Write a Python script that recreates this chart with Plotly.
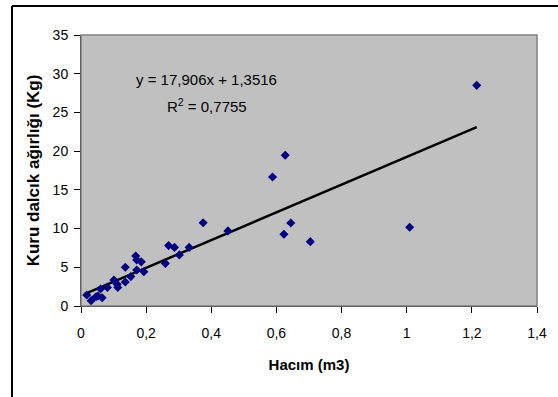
import plotly.graph_objects as go

hacim = [0.0175, 0.031, 0.046, 0.052, 0.065, 0.060, 0.081, 0.101, 0.111, 0.113,
         0.136, 0.136, 0.153, 0.168, 0.171, 0.171, 0.185, 0.193, 0.259, 0.269,
         0.287, 0.302, 0.332, 0.375, 0.451, 0.588, 0.627, 0.644, 0.623, 0.704,
         1.009, 1.215]
agirlik = [1.42, 0.69, 1.2, 1.29, 1.07, 2.2, 2.4, 3.36, 2.8, 2.4,
           5.0, 3.1, 3.8, 6.46, 5.94, 4.65, 5.7, 4.43, 5.5, 7.8,
           7.57, 6.6, 7.57, 10.76, 9.7, 16.66, 19.46, 10.72, 9.26, 8.31,
           10.17, 28.5]
slope = 17.906
intercept = 1.3516
eq_text = "y = 17,906x + 1,3516"
r2_text = "R<sup>2</sup> = 0,7755"
x_ticks = [0, 0.2, 0.4, 0.6, 0.8, 1.0, 1.2, 1.4]
x_labels = ["0", "0,2", "0,4", "0,6", "0,8", "1", "1,2", "1,4"]
y_ticks = [0, 5, 10, 15, 20, 25, 30, 35]

xmin, xmax = min(hacim), max(hacim)
line_x = [xmin, xmax]
line_y = [slope * v + intercept for v in line_x]

fig = go.Figure()
fig.add_trace(go.Scatter(x=line_x, y=line_y, mode="lines",
                         line=dict(color="black", width=2.5), showlegend=False))
fig.add_trace(go.Scatter(x=hacim, y=agirlik, mode="markers",
                         marker=dict(symbol="diamond", size=7, color="#000080"),
                         showlegend=False))

font = "Liberation Sans, Arial, sans-serif"
L, T, W, H = 81, 35, 456, 271
fx0 = (12 - L) / W
fy1 = (T + H - 6) / H
fig.update_layout(
    width=558, height=397,
    margin=dict(l=L, r=558 - L - W, t=T, b=397 - T - H, autoexpand=False),
    paper_bgcolor="white", plot_bgcolor="#C0C0C0",
    font=dict(family=font, size=14, color="black"),
    xaxis=dict(range=[0, 1.4], tickvals=x_ticks, ticktext=x_labels,
               showgrid=False, zeroline=False, showline=True, linecolor="black",
               linewidth=1, ticks="outside", ticklen=6, tickcolor="black",
               ticklabelstandoff=8, tickfont=dict(size=14),
               title=dict(text="<b>Hacım (m3)</b>", font=dict(size=15), standoff=19)),
    yaxis=dict(range=[0, 35], tickvals=y_ticks,
               showgrid=False, zeroline=False, showline=True, linecolor="black",
               linewidth=1, ticks="outside", ticklen=6, tickcolor="black",
               ticklabelstandoff=3, tickfont=dict(size=14),
               title=dict(text="<b>Kuru dalcık ağırlığı (Kg)</b>", font=dict(size=17), standoff=8)),
    shapes=[
        dict(type="rect", xref="paper", yref="paper", x0=0, x1=1, y0=0, y1=1,
             line=dict(color="#808080", width=1.5), layer="above"),
        dict(type="line", xref="paper", yref="paper",
             x0=fx0, x1=fx0, y0=fy1, y1=(T + H - 400) / H,
             line=dict(color="black", width=2)),
        dict(type="line", xref="paper", yref="paper",
             x0=fx0, x1=(560 - L) / W, y0=fy1, y1=fy1,
             line=dict(color="black", width=2)),
    ],
    annotations=[
        dict(text=eq_text, xref="paper", yref="paper", x=(206 - L) / W, y=(T + H - 79) / H,
             xanchor="center", yanchor="middle", showarrow=False, font=dict(size=15)),
        dict(text=r2_text, xref="paper", yref="paper", x=(207 - L) / W, y=(T + H - 105) / H,
             xanchor="center", yanchor="middle", showarrow=False, font=dict(size=15)),
    ],
)
fig.write_html("out.html", config={"displayModeBar": False},
               post_script="document.body.style.margin='0';")
